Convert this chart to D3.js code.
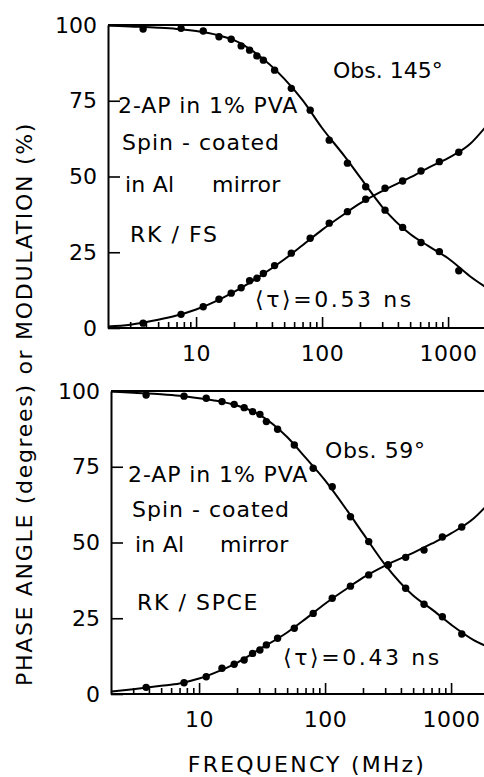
<!DOCTYPE html>
<html>
<head>
<meta charset="utf-8">
<script src="https://cdn.jsdelivr.net/npm/d3@7"></script>
<style>
  html, body { margin: 0; padding: 0; background: #fff; }
  svg { display: block; }
  text { font-family: "DejaVu Sans", sans-serif; fill: #000; }
</style>
</head>
<body>
<svg id="chart" width="484" height="777"></svg>
<script>
// Modulation frequencies (MHz) of the measured points
const freq = [3.8, 7.6, 11.4, 15.2, 19, 22.8, 26.6, 30.4, 34.2, 42, 57, 80.5, 114, 159, 222, 316, 436, 610, 853, 1216];

// Upper panel (RK/FS): phase angle (deg) and modulation (%)
const phaseTop = [1.6, 4.5, 7.0, 9.5, 11.5, 13.3, 15.6, 16.4, 18.0, 20.6, 24.7, 29.6, 34.6, 38.4, 42.5, 46.1, 48.5, 51.8, 54.9, 58.0];
const modTop   = [98.7, 98.9, 98.0, 96.1, 95.3, 93.1, 91.7, 89.8, 88.4, 85.1, 79.1, 71.9, 62.0, 54.4, 46.6, 38.9, 33.2, 28.2, 25.2, 18.9];

// Lower panel (RK/SPCE)
const phaseBottom = [2.2, 3.7, 5.7, 8.5, 9.8, 11.2, 13.4, 14.5, 16.2, 18.4, 21.7, 26.6, 31.6, 35.6, 39.3, 42.6, 45.1, 47.5, 51.8, 55.1];
const modBottom   = [98.7, 98.3, 97.6, 96.5, 95.6, 94.5, 93.2, 92.3, 89.9, 87.4, 82.2, 74.5, 68.4, 58.5, 50.3, 42.6, 34.9, 29.6, 25.5, 19.8];

// Fitted curves, sampled along the frequency axis
const fitFreq = [2, 3, 5, 7, 10, 15, 20, 30, 50, 70, 100, 150, 200, 300, 500, 700, 1000, 1500, 1950];
const phaseFitTop    = [0.5, 1.1, 2.7, 4.1, 6.1, 9.2, 11.9, 16.3, 22.6, 27.3, 32.4, 37.6, 41.1, 45.2, 49.7, 52.9, 56.1, 60.8, 66.0];
const modFitTop      = [99.8, 99.5, 99.1, 98.7, 98.0, 96.6, 95.0, 90.6, 82.3, 75.2, 66.0, 56.8, 49.8, 40.0, 31.0, 27.0, 23.0, 17.0, 13.7];
const phaseFitBottom = [0.8, 1.6, 2.7, 3.5, 5.1, 7.9, 10.3, 14.7, 20.3, 24.8, 29.8, 34.9, 38.4, 42.4, 46.6, 49.6, 53.0, 57.8, 62.5];
const modFitBottom   = [99.8, 99.4, 98.9, 98.4, 97.6, 96.5, 95.2, 92.2, 84.8, 78.0, 70.5, 60.5, 53.0, 42.6, 32.5, 28.0, 22.9, 17.9, 15.6];

// Axis ticks and labels
const yTicks = [0, 25, 50, 75, 100];
const xMajorTicks = [10, 100, 1000];
const xMinorTicks = [3, 4, 5, 6, 7, 8, 9, 20, 30, 40, 50, 60, 70, 80, 90, 200, 300, 400, 500, 600, 700, 800, 900];

// Text blocks inside each panel; a text may be split in pieces placed along the line
const panelTop = {
  phase: phaseTop, mod: modTop, phaseFit: phaseFitTop, modFit: modFitTop,
  notes: [
    { parts: [["Obs. 145°", 333]], y: 78, ls: 0 },
    { parts: [["2-AP in 1% PVA", 118]], y: 113, ls: 0.9 },
    { parts: [["Spin - coated", 122]], y: 150, ls: 1.0 },
    { parts: [["in Al", 125], ["mirror", 212]], y: 192, ls: 0.2 },
    { parts: [["RK / FS", 130]], y: 242, ls: 1.6 },
    { parts: [["\u27E8\u03C4\u27E9=0.53 ns", 255]], y: 307, ls: 2.6 }
  ],
  x0: 108, top: 25, bottom: 328
};
const panelBottom = {
  phase: phaseBottom, mod: modBottom, phaseFit: phaseFitBottom, modFit: modFitBottom,
  notes: [
    { parts: [["Obs. 59°", 325]], y: 458, ls: 0.6 },
    { parts: [["2-AP in 1% PVA", 128]], y: 482, ls: 0.9 },
    { parts: [["Spin - coated", 132]], y: 517, ls: 1.0 },
    { parts: [["in Al", 135], ["mirror", 220]], y: 552, ls: 0.2 },
    { parts: [["RK / SPCE", 137]], y: 610, ls: 1.6 },
    { parts: [["\u27E8\u03C4\u27E9=0.43 ns", 283]], y: 665, ls: 2.6 }
  ],
  x0: 111, top: 391, bottom: 694
};

const W = 484, H = 777;
const decade = 126;
const svg = d3.select("#chart");
const FS = 22;

svg.append("defs").append("clipPath").attr("id", "clip")
  .append("rect").attr("x", 0).attr("y", 0).attr("width", W).attr("height", H);

function drawPanel(p) {
  const x = d3.scaleLog().domain([2, 2000]).range([p.x0, p.x0 + 3 * decade]);
  const y = d3.scaleLinear().domain([0, 100]).range([p.bottom, p.top]);
  const g = svg.append("g").attr("clip-path", "url(#clip)");

  // frame: top border
  g.append("line")
    .attr("x1", p.x0).attr("x2", W).attr("y1", y(100)).attr("y2", y(100))
    .attr("stroke", "#000").attr("stroke-width", 2);

  // bottom axis: minor ticks
  const minor = d3.axisBottom(x).tickValues(xMinorTicks).tickSize(-6).tickSizeOuter(0).tickFormat("");
  const gm = g.append("g").attr("transform", `translate(0,${p.bottom})`).call(minor);
  gm.select(".domain").remove();
  gm.selectAll("line").attr("stroke-width", 1.6);

  // bottom axis: major ticks and labels
  const major = d3.axisBottom(x).tickValues(xMajorTicks).tickSize(-11).tickSizeOuter(0)
    .tickPadding(17).tickFormat(d3.format("d"));
  const gM = g.append("g").attr("transform", `translate(0,${p.bottom})`).call(major);
  gM.select(".domain").remove();
  gM.selectAll("line").attr("stroke-width", 1.6);
  gM.selectAll("text").attr("font-size", FS).attr("font-family", "DejaVu Sans").attr("letter-spacing", 0.5);

  g.append("line")
    .attr("x1", p.x0).attr("x2", W).attr("y1", p.bottom).attr("y2", p.bottom)
    .attr("stroke", "#000").attr("stroke-width", 2);

  // left axis
  const left = d3.axisLeft(y).tickValues(yTicks).tickSize(-12).tickSizeOuter(0).tickPadding(11);
  const gl = svg.append("g").attr("transform", `translate(${p.x0},0)`).call(left);
  gl.select(".domain").attr("stroke-width", 2);
  gl.selectAll("line").attr("stroke-width", 1.6);
  gl.selectAll("text").attr("font-size", FS).attr("font-family", "DejaVu Sans");

  // fitted curves
  const line = d3.line().x(d => x(d[0])).y(d => y(d[1])).curve(d3.curveMonotoneX);
  [p.phaseFit, p.modFit].forEach(vals => {
    g.append("path")
      .datum(fitFreq.map((f, i) => [f, vals[i]]))
      .attr("fill", "none").attr("stroke", "#000").attr("stroke-width", 2)
      .attr("d", line);
  });

  // measured points
  [p.phase, p.mod].forEach(vals => {
    g.selectAll(null).data(freq.map((f, i) => [f, vals[i]])).enter()
      .append("circle")
      .attr("cx", d => x(d[0])).attr("cy", d => y(d[1])).attr("r", 3.7)
      .attr("fill", "#000");
  });

  // annotations
  const t = svg.append("g").selectAll("text").data(p.notes).enter().append("text")
    .attr("y", d => d.y)
    .attr("font-size", FS).attr("letter-spacing", d => d.ls);
  t.selectAll("tspan").data(d => d.parts).enter().append("tspan")
    .attr("x", d => d[1])
    .text(d => d[0]);
}

drawPanel(panelTop);
drawPanel(panelBottom);

// axis titles
svg.append("text")
  .attr("transform", "translate(32,404) rotate(-90)")
  .attr("text-anchor", "middle")
  .attr("font-size", FS).attr("letter-spacing", 1.7)
  .text("PHASE ANGLE (degrees) or MODULATION (%)");

svg.append("text")
  .attr("x", 307).attr("y", 772)
  .attr("text-anchor", "middle")
  .attr("font-size", FS).attr("letter-spacing", 2.2)
  .text("FREQUENCY (MHz)");
</script>
</body>
</html>
